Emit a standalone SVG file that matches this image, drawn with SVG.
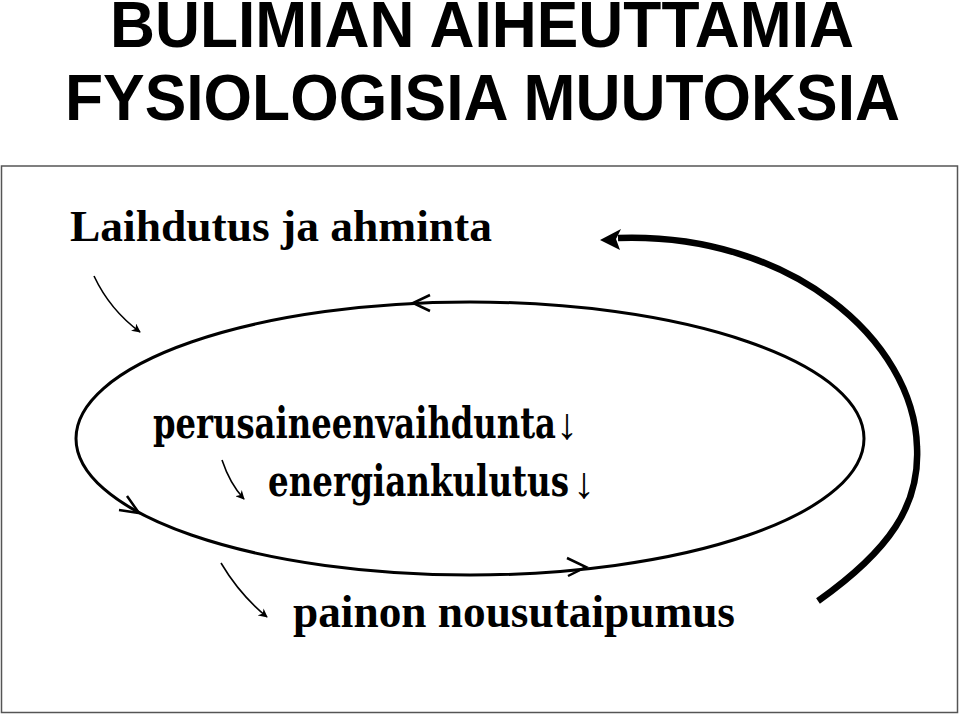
<svg xmlns="http://www.w3.org/2000/svg" width="960" height="714" viewBox="0 0 960 714">
<style>
.title{font-family:"Liberation Sans",Arial,sans-serif;font-weight:bold;font-size:65px;fill:#000}
.tnr{font-family:"Liberation Serif","Times New Roman",serif;font-weight:bold;fill:#000}
.pal{font-family:"DejaVu Serif","Liberation Serif",serif;font-weight:bold;font-size:42px;fill:#000}
.dn{font-family:"Liberation Serif",serif;font-weight:normal;font-size:44px}
.thin{fill:none;stroke:#000;stroke-width:1.6;marker-end:url(#sm)}
.ell{fill:none;stroke:#000;stroke-width:3}
.chev{fill:none;stroke:#000;stroke-width:2.5;stroke-linejoin:miter}
</style>
<defs>
<marker id="sm" viewBox="0 0 10 10" refX="9" refY="5" markerWidth="9" markerHeight="9" markerUnits="userSpaceOnUse" orient="auto">
<path d="M0,0 L10,5 L0,10 L3,5 Z" fill="#000"/>
</marker>
</defs>
<rect x="1.5" y="166" width="956" height="546.5" fill="#fff" stroke="#555" stroke-width="1.5"/>
<g id="title">
<text class="title" x="110" y="47" textLength="744" lengthAdjust="spacingAndGlyphs">BULIMIAN AIHEUTTAMIA</text>
<text class="title" x="65" y="120" textLength="835" lengthAdjust="spacingAndGlyphs">FYSIOLOGISIA MUUTOKSIA</text>
</g>
<g id="node-laihdutus">
<text class="tnr" x="70" y="241" font-size="45" textLength="422" lengthAdjust="spacingAndGlyphs">Laihdutus ja ahminta</text>
</g>
<g id="node-perus">
<text class="pal" x="153" y="438"><tspan textLength="403" lengthAdjust="spacingAndGlyphs">perusaineenvaihdunta</tspan><tspan class="dn" dx="0" dy="1">↓</tspan></text>
</g>
<g id="node-energia">
<text class="pal" x="268" y="496"><tspan textLength="301" lengthAdjust="spacingAndGlyphs">energiankulutus</tspan><tspan class="dn" dx="4" dy="2">↓</tspan></text>
</g>
<g id="node-paino">
<text class="tnr" x="293" y="627" font-size="47" textLength="442" lengthAdjust="spacingAndGlyphs">painon nousutaipumus</text>
</g>
<g id="connectors">
<ellipse class="ell" cx="470" cy="438.5" rx="394" ry="136.5"/>
<polyline class="chev" points="430,295 413,303 430,311"/>
<polyline class="chev" points="119,510 139,513 127,496"/>
<polyline class="chev" points="567,558 586,567 568,576"/>
<path class="thin" d="M94,276 Q110,310 140,332"/>
<path class="thin" d="M222,460 Q230,484 244,499"/>
<path class="thin" d="M221,563 Q240,595 267,617"/>
<path d="M818,601 C890,550 920,505 917,447 C914,340 790,232 618,238" fill="none" stroke="#000" stroke-width="6.5"/>
<polygon points="600,240 621,229 616,239 620,250" fill="#000"/>
</g>
</svg>
